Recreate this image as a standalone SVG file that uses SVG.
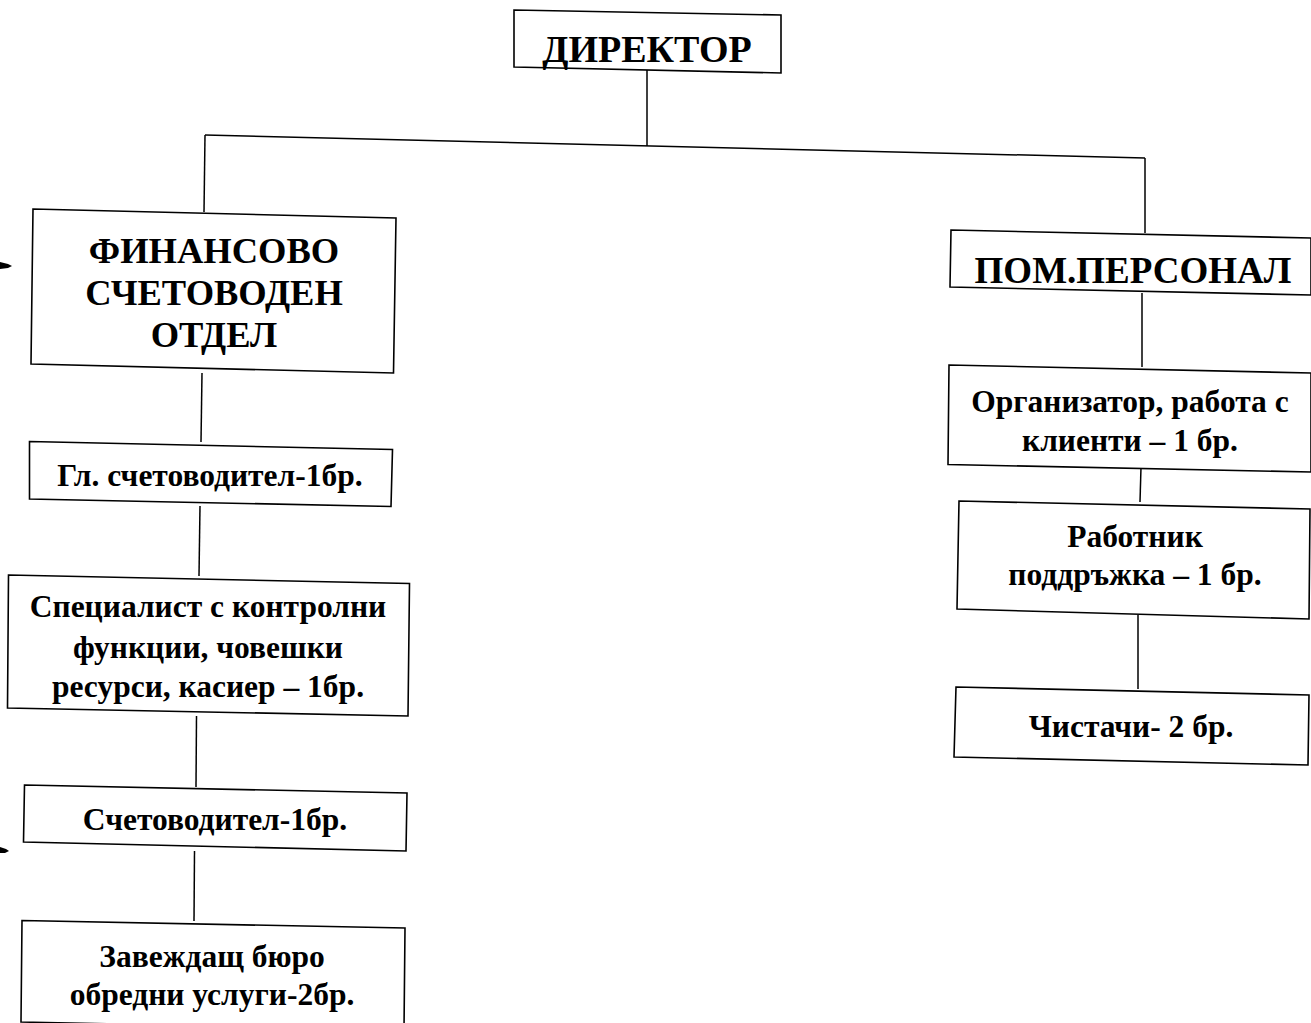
<svg xmlns="http://www.w3.org/2000/svg" width="1311" height="1023" viewBox="0 0 1311 1023">
<style>
.box{fill:#fff;stroke:#000;stroke-width:1.6}
.ln{stroke:#000;stroke-width:1.5;fill:none}
text{font-family:"Liberation Serif","Times New Roman",serif;font-weight:bold;fill:#000;text-anchor:middle}
.t1{font-size:38px}
.t1b{font-size:37px}
.t2{font-size:36.5px}
.t3{font-size:31.5px}
</style>
<rect width="1311" height="1023" fill="#fff"/>
<g id="marks">
<polygon points="0,262 8,264 12,266 8,268 0,269" fill="#000"/>
<polygon points="0,847 6,849 9,851 5,853 0,853" fill="#000"/>
</g>
<g id="connectors">
<line class="ln" x1="647" y1="70" x2="647" y2="146"/>
<line class="ln" x1="205" y1="135" x2="1145" y2="158"/>
<line class="ln" x1="205" y1="135" x2="204" y2="212"/>
<line class="ln" x1="1145" y1="158" x2="1145" y2="233"/>
<line class="ln" x1="202" y1="373" x2="201" y2="442"/>
<line class="ln" x1="200" y1="506" x2="199" y2="576"/>
<line class="ln" x1="196.5" y1="716" x2="196" y2="787"/>
<line class="ln" x1="194.5" y1="851" x2="194" y2="921"/>
<line class="ln" x1="1142" y1="293" x2="1142" y2="367"/>
<line class="ln" x1="1141" y1="467" x2="1140" y2="502"/>
<line class="ln" x1="1138" y1="615" x2="1138" y2="689"/>
</g>
<g id="n-director">
<polygon class="box" points="514,10 781,15 781,73 514,67"/>
<text class="t1" x="647" y="62">ДИРЕКТОР</text>
</g>
<g id="n-finance">
<polygon class="box" points="33,209 396,218 393.5,373 31,364"/>
<text class="t2" x="214" y="263">ФИНАНСОВО</text>
<text class="t2" x="214" y="305">СЧЕТОВОДЕН</text>
<text class="t2" x="214" y="347">ОТДЕЛ</text>
</g>
<g id="n-staff">
<polygon class="box" points="951,230 1311,238 1311,295 950,287"/>
<text class="t1b" x="1133" y="283">ПОМ.ПЕРСОНАЛ</text>
</g>
<g id="n-chief-accountant">
<polygon class="box" points="29.5,441.5 392.5,449.5 391,506.5 29.5,499"/>
<text class="t3" x="210" y="486">Гл. счетоводител-1бр.</text>
</g>
<g id="n-specialist">
<polygon class="box" points="8.5,575 409.5,583.5 408,716 7.5,708"/>
<text class="t3" x="208" y="617">Специалист с контролни</text>
<text class="t3" x="208" y="658">функции, човешки</text>
<text class="t3" x="208" y="697">ресурси, касиер – 1бр.</text>
</g>
<g id="n-accountant">
<polygon class="box" points="24.5,785 407,793 406,851 23.5,842"/>
<text class="t3" x="215" y="830">Счетоводител-1бр.</text>
</g>
<g id="n-bureau">
<polygon class="box" points="22,920.5 405,928 404,1030 21,1022"/>
<text class="t3" x="212" y="967">Завеждащ бюро</text>
<text class="t3" x="212" y="1005">обредни услуги-2бр.</text>
</g>
<g id="n-organizer">
<polygon class="box" points="949,365 1311,373 1311,472 948,464.5"/>
<text class="t3" x="1130" y="412">Организатор, работа с</text>
<text class="t3" x="1130" y="451">клиенти – 1 бр.</text>
</g>
<g id="n-maintenance">
<polygon class="box" points="959,501 1310,509 1309,619 957,609"/>
<text class="t3" x="1135" y="547">Работник</text>
<text class="t3" x="1135" y="585">поддръжка – 1 бр.</text>
</g>
<g id="n-cleaners">
<polygon class="box" points="956,687 1309,695 1308,765 954,757"/>
<text class="t3" x="1131" y="737">Чистачи- 2 бр.</text>
</g>
</svg>
